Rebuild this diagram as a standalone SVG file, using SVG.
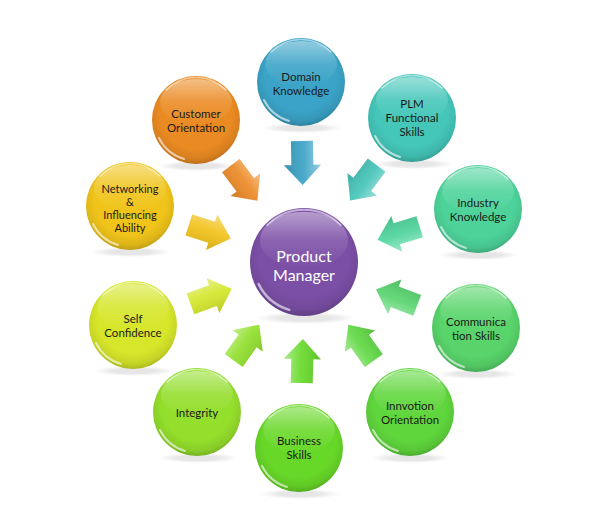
<svg xmlns="http://www.w3.org/2000/svg" width="596" height="523" viewBox="0 0 596 523">
<defs>
<radialGradient id="shade" cx="0.5" cy="0.42" r="0.58">
<stop offset="0.7" stop-color="#000" stop-opacity="0"/>
<stop offset="0.9" stop-color="#000" stop-opacity="0.08"/>
<stop offset="1" stop-color="#000" stop-opacity="0.2"/>
</radialGradient>
<linearGradient id="gloss" x1="0" y1="0" x2="0" y2="1">
<stop offset="0" stop-color="#fff" stop-opacity="0.45"/>
<stop offset="0.5" stop-color="#fff" stop-opacity="0.12"/>
<stop offset="1" stop-color="#fff" stop-opacity="0"/>
</linearGradient>
<radialGradient id="shadow" cx="0.5" cy="0.5" r="0.5">
<stop offset="0.5" stop-color="#000" stop-opacity="0.1"/>
<stop offset="1" stop-color="#000" stop-opacity="0"/>
</radialGradient>
<linearGradient id="agloss" x1="0" y1="0" x2="0" y2="1">
<stop offset="0" stop-color="#fff" stop-opacity="0.45"/>
<stop offset="0.45" stop-color="#fff" stop-opacity="0.08"/>
<stop offset="1" stop-color="#000" stop-opacity="0.12"/>
</linearGradient>
<path id="arrow" d="M-22,-11 L2,-11 L2,-18.5 L22,0 L2,18.5 L2,11 L-22,11 Z"/>
<g id="ball">
<circle r="44" fill="url(#shade)"/>
<ellipse cx="0" cy="-18" rx="36" ry="23" fill="url(#gloss)"/>
<path d="M-30,-30 A42,42 0 0 1 30,-30" fill="none" stroke="#fff" stroke-opacity="0.55" stroke-width="1.5" stroke-linecap="round"/>
<path d="M-37,18 A41,41 0 0 0 -12,39" fill="none" stroke="#fff" stroke-opacity="0.6" stroke-width="2" stroke-linecap="round"/>
</g>
</defs>
<style>
.t{font-family:Lato,"Open Sans","Liberation Sans",sans-serif;font-size:11.5px;fill:#1a1a1a;text-anchor:middle}
.n{font-size:11px}
.c{font-family:Lato,"Open Sans","Liberation Sans",sans-serif;font-size:16px;fill:#fff;text-anchor:middle}
.sh{fill:url(#shadow)}
</style>
<rect width="596" height="523" fill="#fff"/>

<g id="connectors">
<g transform="translate(302.3,163) rotate(89)"><use href="#arrow" fill="#3da3c6"/><use href="#arrow" fill="url(#agloss)"/></g>
<g transform="translate(363.4,182.8) rotate(126.9)"><use href="#arrow" fill="#45c4b8"/><use href="#arrow" fill="url(#agloss)"/></g>
<g transform="translate(398.6,233.2) rotate(163)"><use href="#arrow" fill="#4fd49c"/><use href="#arrow" fill="url(#agloss)"/></g>
<g transform="translate(396.6,297.5) rotate(201)"><use href="#arrow" fill="#58d46e"/><use href="#arrow" fill="url(#agloss)"/></g>
<g transform="translate(361.1,342.7) rotate(234.7)"><use href="#arrow" fill="#60d844"/><use href="#arrow" fill="url(#agloss)"/></g>
<g transform="translate(302.3,361) rotate(271.5)"><use href="#arrow" fill="#68da2c"/><use href="#arrow" fill="url(#agloss)"/></g>
<g transform="translate(246.5,342.6) rotate(305.5)"><use href="#arrow" fill="#92e02e"/><use href="#arrow" fill="url(#agloss)"/></g>
<g transform="translate(211.1,296.3) rotate(-20.2)"><use href="#arrow" fill="#d4e62a"/><use href="#arrow" fill="url(#agloss)"/></g>
<g transform="translate(209.8,231.7) rotate(17.8)"><use href="#arrow" fill="#f2c21a"/><use href="#arrow" fill="url(#agloss)"/></g>
<g transform="translate(244.1,183.2) rotate(52.8)"><use href="#arrow" fill="#ec8a26"/><use href="#arrow" fill="url(#agloss)"/></g>
</g>

<g id="center">
<ellipse cx="306" cy="318" rx="50" ry="6" class="sh"/>
<circle cx="304" cy="262" r="54" fill="#7b4fa6"/>
<g transform="translate(304,262) scale(1.227)"><use href="#ball"/></g>
<text class="c" x="304" y="262">Product</text>
<text class="c" x="304" y="281">Manager</text>
</g>

<g id="domain">
<ellipse cx="302" cy="128" rx="40" ry="5" class="sh"/>
<circle cx="301" cy="82" r="44" fill="#3aa3c7"/>
<use href="#ball" x="301" y="82"/>
<text class="t" x="301" y="81">Domain</text>
<text class="t" x="301" y="95">Knowledge</text>
</g>

<g id="plm">
<ellipse cx="413" cy="164" rx="40" ry="5" class="sh"/>
<circle cx="412" cy="118" r="44" fill="#44c6b9"/>
<use href="#ball" x="412" y="118"/>
<text class="t" x="412" y="108">PLM</text>
<text class="t" x="412" y="122">Functional</text>
<text class="t" x="412" y="136">Skills</text>
</g>

<g id="industry">
<ellipse cx="479" cy="255" rx="40" ry="5" class="sh"/>
<circle cx="478" cy="209" r="44" fill="#4dd39a"/>
<use href="#ball" x="478" y="209"/>
<text class="t" x="478" y="207">Industry</text>
<text class="t" x="478" y="221">Knowledge</text>
</g>

<g id="communication">
<ellipse cx="477" cy="374" rx="40" ry="5" class="sh"/>
<circle cx="476" cy="328" r="44" fill="#58d46a"/>
<use href="#ball" x="476" y="328"/>
<text class="t" x="476" y="326">Communica</text>
<text class="t" x="476" y="340">tion Skills</text>
</g>

<g id="innovation">
<ellipse cx="411" cy="458" rx="40" ry="5" class="sh"/>
<circle cx="410" cy="412" r="44" fill="#5fd63c"/>
<use href="#ball" x="410" y="412"/>
<text class="t" x="410" y="410">Innvotion</text>
<text class="t" x="410" y="424">Orientation</text>
</g>

<g id="business">
<ellipse cx="300" cy="494" rx="40" ry="5" class="sh"/>
<circle cx="299" cy="448" r="44" fill="#68d828"/>
<use href="#ball" x="299" y="448"/>
<text class="t" x="299" y="445">Business</text>
<text class="t" x="299" y="459">Skills</text>
</g>

<g id="integrity">
<ellipse cx="198" cy="458" rx="40" ry="5" class="sh"/>
<circle cx="197" cy="412" r="44" fill="#94de2c"/>
<use href="#ball" x="197" y="412"/>
<text class="t" x="197" y="417">Integrity</text>
</g>

<g id="self">
<ellipse cx="134" cy="371" rx="40" ry="5" class="sh"/>
<circle cx="133" cy="325" r="44" fill="#d6e62a"/>
<use href="#ball" x="133" y="325"/>
<text class="t" x="133" y="323">Self</text>
<text class="t" x="133" y="337">Confidence</text>
</g>

<g id="networking">
<ellipse cx="131" cy="252" rx="40" ry="5" class="sh"/>
<circle cx="130" cy="206" r="44" fill="#f0c41a"/>
<use href="#ball" x="130" y="206"/>
<text class="t n" x="130" y="193">Networking</text>
<text class="t n" x="130" y="206">&amp;</text>
<text class="t n" x="130" y="219">Influencing</text>
<text class="t n" x="130" y="232">Ability</text>
</g>

<g id="customer">
<ellipse cx="197" cy="166" rx="40" ry="5" class="sh"/>
<circle cx="196" cy="120" r="44" fill="#ea8a22"/>
<use href="#ball" x="196" y="120"/>
<text class="t" x="196" y="118">Customer</text>
<text class="t" x="196" y="132">Orientation</text>
</g>
</svg>
